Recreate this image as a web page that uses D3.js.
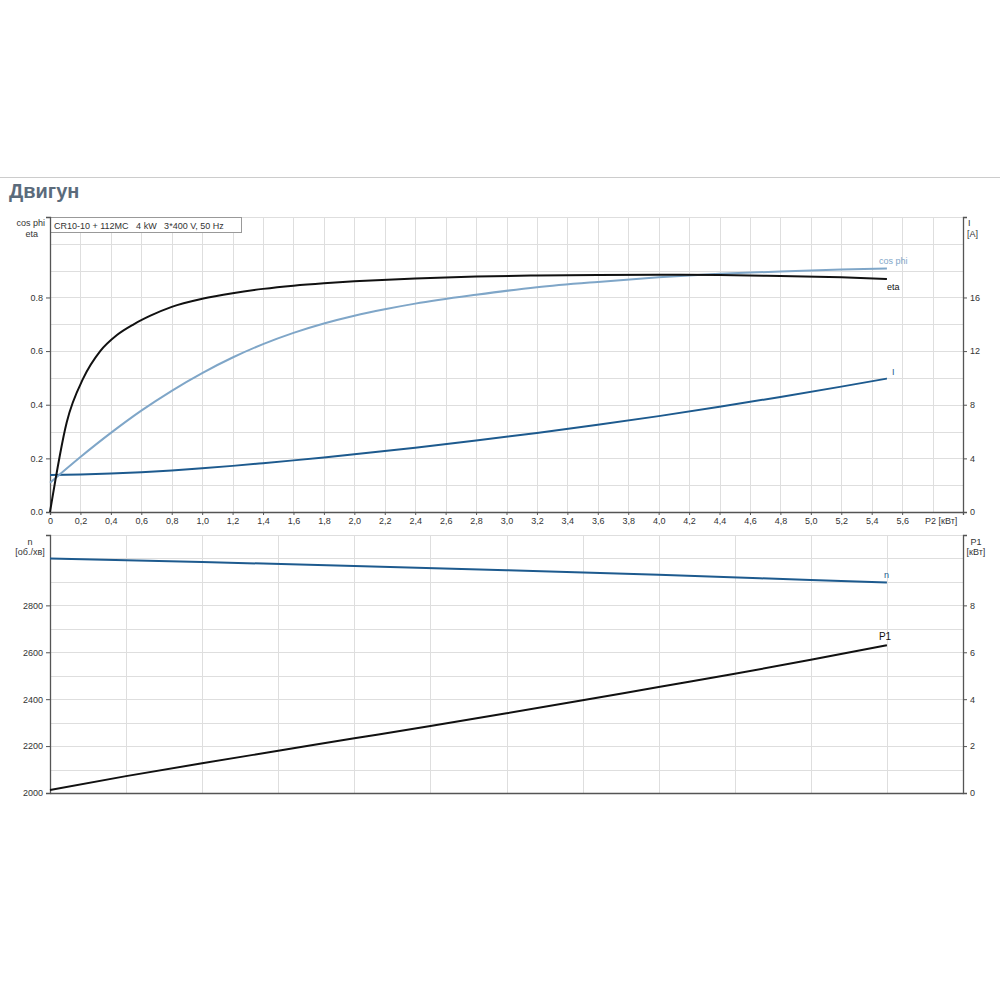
<!DOCTYPE html>
<html>
<head>
<meta charset="utf-8">
<script src="https://cdn.jsdelivr.net/npm/d3@7"></script>
<style>
  body { margin: 0; background: #fff; }
  text { font-family: "Liberation Sans", Arial, sans-serif; }
</style>
</head>
<body>
<script>
// P2 values (kW) and curves
var etaP2   = [0, 0.11, 0.22, 0.33, 0.44, 0.55, 0.66, 0.8, 1.0, 1.2, 1.4, 1.6, 1.8, 2.0, 2.4, 2.8, 3.2, 3.6, 4.0, 4.4, 4.8, 5.2, 5.5];
var etaVals = [0, 0.335, 0.5, 0.6, 0.66, 0.70, 0.732, 0.765, 0.795, 0.816, 0.832, 0.844, 0.853, 0.86, 0.871, 0.878, 0.882, 0.884, 0.885, 0.884, 0.88, 0.875, 0.869];

var cosP2   = [0, 0.2, 0.4, 0.6, 0.8, 1.0, 1.2, 1.4, 1.6, 1.8, 2.0, 2.2, 2.4, 2.8, 3.2, 3.6, 4.0, 4.4, 4.8, 5.2, 5.5];
var cosVals = [0.109, 0.205, 0.295, 0.378, 0.452, 0.518, 0.576, 0.626, 0.668, 0.703, 0.732, 0.756, 0.777, 0.81, 0.838, 0.858, 0.875, 0.888, 0.897, 0.904, 0.908];

var curP2   = [0, 0.2, 0.4, 0.6, 0.8, 1.0, 1.2, 1.4, 1.6, 1.8, 2.0, 2.4, 2.8, 3.2, 3.6, 4.0, 4.4, 4.8, 5.2, 5.5];
var curVals = [2.76, 2.8, 2.87, 2.97, 3.1, 3.26, 3.44, 3.64, 3.85, 4.07, 4.3, 4.8, 5.33, 5.9, 6.5, 7.15, 7.85, 8.58, 9.35, 9.95];

var nP2   = [0, 1.0, 2.0, 3.0, 4.0, 5.0, 5.5];
var nVals = [3000, 2985, 2968, 2950, 2930, 2908, 2897];

var p1P2   = [0, 0.5, 1.0, 1.5, 2.0, 2.5, 3.0, 3.5, 4.0, 4.5, 5.0, 5.5];
var p1Vals = [0.13, 0.72, 1.27, 1.8, 2.33, 2.86, 3.4, 3.95, 4.52, 5.08, 5.68, 6.3];

var xTicks = [0, 0.2, 0.4, 0.6, 0.8, 1.0, 1.2, 1.4, 1.6, 1.8, 2.0, 2.2, 2.4, 2.6, 2.8, 3.0, 3.2, 3.4, 3.6, 3.8, 4.0, 4.2, 4.4, 4.6, 4.8, 5.0, 5.2, 5.4, 5.6];
var etaTicks = [0, 0.2, 0.4, 0.6, 0.8];
var curTicks = [0, 4, 8, 12, 16];
var nTicks = [2000, 2200, 2400, 2600, 2800];
var p1Ticks = [0, 2, 4, 6, 8];

var svg = d3.select("body").append("svg")
  .attr("width", 1000)
  .attr("height", 1000);

var gridColor = "#dedede",
    axisColor = "#555",
    textColor = "#333",
    lightBlue = "#7fa6c8",
    darkBlue = "#1d5a8e";

// header rule and title
svg.append("line")
  .attr("x1", 0).attr("x2", 1000)
  .attr("y1", 177.5).attr("y2", 177.5)
  .style("stroke", "#ccc");

svg.append("text")
  .attr("x", 9).attr("y", 198)
  .style("font-size", "20px")
  .style("font-weight", "bold")
  .style("fill", "#5b6b7b")
  .text("Двигун");

var x = d3.scaleLinear().domain([0, 6]).range([50, 963]);

function line(xs, ys, yScale) {
  return d3.line()
    .x(function(d, i) { return x(xs[i]); })
    .y(function(d) { return yScale(d); })
    .curve(d3.curveMonotoneX)(ys);
}

// ---------- top chart ----------
var yEta = d3.scaleLinear().domain([0, 1.1]).range([512, 217]);
var yCur = d3.scaleLinear().domain([0, 22]).range([512, 217]);

var gTop = svg.append("g");

gTop.append("g").selectAll("line")
  .data(d3.range(1, 12).map(function(i) { return i / 10; }))
  .enter().append("line")
  .attr("x1", 50).attr("x2", 963)
  .attr("y1", function(d) { return Math.round(yEta(d)) + 0.5; })
  .attr("y2", function(d) { return Math.round(yEta(d)) + 0.5; })
  .style("stroke", gridColor);

gTop.append("g").selectAll("line")
  .data(d3.range(1, 30).map(function(i) { return i * 0.2; }))
  .enter().append("line")
  .attr("x1", function(d) { return Math.round(x(d)) + 0.5; })
  .attr("x2", function(d) { return Math.round(x(d)) + 0.5; })
  .attr("y1", 217).attr("y2", 512)
  .style("stroke", gridColor);

// info box
gTop.append("rect")
  .attr("x", 50.5).attr("y", 217.5)
  .attr("width", 191).attr("height", 15)
  .style("fill", "#fff")
  .style("stroke", "#999");

gTop.append("text")
  .attr("x", 54).attr("y", 228.5)
  .style("font-size", "9px")
  .style("fill", textColor)
  .attr("xml:space", "preserve")
  .text("CR10-10 + 112MC   4 kW   3*400 V, 50 Hz");

var xAxis = d3.axisBottom(x)
  .tickValues(xTicks)
  .tickSize(3)
  .tickFormat(function(d) { return d === 0 ? "0" : d3.format(".1f")(d).replace(".", ","); });

var gx = gTop.append("g")
  .attr("transform", "translate(0,512)")
  .call(xAxis);

var gl = gTop.append("g")
  .attr("transform", "translate(50,0)")
  .call(d3.axisLeft(yEta).tickValues(etaTicks).tickSize(4).tickFormat(d3.format(".1f")));

var gr = gTop.append("g")
  .attr("transform", "translate(963,0)")
  .call(d3.axisRight(yCur).tickValues(curTicks).tickSize(4));

gTop.append("text")
  .attr("x", 925).attr("y", 524)
  .style("font-size", "9px").style("fill", textColor)
  .text("P2 [кВт]");

gTop.append("text").attr("x", 45).attr("y", 226).attr("text-anchor", "end")
  .style("font-size", "9px").style("fill", textColor).text("cos phi");
gTop.append("text").attr("x", 38).attr("y", 237).attr("text-anchor", "end")
  .style("font-size", "9px").style("fill", textColor).text("eta");
gTop.append("text").attr("x", 968).attr("y", 226)
  .style("font-size", "9px").style("fill", textColor).text("I");
gTop.append("text").attr("x", 967).attr("y", 237)
  .style("font-size", "9px").style("fill", textColor).text("[A]");

gTop.append("path")
  .attr("d", line(curP2, curVals, yCur))
  .style("fill", "none").style("stroke", darkBlue).style("stroke-width", 2);

gTop.append("path")
  .attr("d", line(cosP2, cosVals, yEta))
  .style("fill", "none").style("stroke", lightBlue).style("stroke-width", 2);

gTop.append("path")
  .attr("d", line(etaP2, etaVals, yEta))
  .style("fill", "none").style("stroke", "#111").style("stroke-width", 2);

gTop.append("text")
  .attr("x", x(5.5) - 8).attr("y", yEta(cosVals[cosVals.length - 1]) - 4)
  .style("font-size", "9px").style("fill", lightBlue).text("cos phi");
gTop.append("text")
  .attr("x", x(5.5)).attr("y", yEta(etaVals[etaVals.length - 1]) + 11)
  .style("font-size", "9px").style("fill", "#111").text("eta");
gTop.append("text")
  .attr("x", x(5.5) + 5).attr("y", yCur(curVals[curVals.length - 1]) - 4)
  .style("font-size", "9px").style("fill", darkBlue).text("I");

// ---------- bottom chart ----------
var yN = d3.scaleLinear().domain([2000, 3100]).range([793, 535]);
var yP1 = d3.scaleLinear().domain([0, 11]).range([793, 535]);

var gBot = svg.append("g");

gBot.append("g").selectAll("line")
  .data(d3.range(2100, 3101, 100))
  .enter().append("line")
  .attr("x1", 50).attr("x2", 963)
  .attr("y1", function(d) { return Math.round(yN(d)) + 0.5; })
  .attr("y2", function(d) { return Math.round(yN(d)) + 0.5; })
  .style("stroke", gridColor);

gBot.append("g").selectAll("line")
  .data(d3.range(1, 12).map(function(i) { return i * 0.5; }))
  .enter().append("line")
  .attr("x1", function(d) { return Math.round(x(d)) + 0.5; })
  .attr("x2", function(d) { return Math.round(x(d)) + 0.5; })
  .attr("y1", 535).attr("y2", 793)
  .style("stroke", gridColor);

var gbx = gBot.append("g")
  .attr("transform", "translate(0,793)")
  .call(d3.axisBottom(x).tickValues([]).tickSizeOuter(0));

var gbl = gBot.append("g")
  .attr("transform", "translate(50,0)")
  .call(d3.axisLeft(yN).tickValues(nTicks).tickSize(4).tickFormat(d3.format("d")));

var gbr = gBot.append("g")
  .attr("transform", "translate(963,0)")
  .call(d3.axisRight(yP1).tickValues(p1Ticks).tickSize(4));

gBot.append("text").attr("x", 30).attr("y", 545).attr("text-anchor", "middle")
  .style("font-size", "9px").style("fill", textColor).text("n");
gBot.append("text").attr("x", 30).attr("y", 555).attr("text-anchor", "middle")
  .style("font-size", "9px").style("fill", textColor).text("[об./хв]");
gBot.append("text").attr("x", 976).attr("y", 545).attr("text-anchor", "middle")
  .style("font-size", "9px").style("fill", textColor).text("P1");
gBot.append("text").attr("x", 976).attr("y", 555).attr("text-anchor", "middle")
  .style("font-size", "9px").style("fill", textColor).text("[кВт]");

gBot.append("path")
  .attr("d", line(nP2, nVals, yN))
  .style("fill", "none").style("stroke", darkBlue).style("stroke-width", 2);

gBot.append("path")
  .attr("d", line(p1P2, p1Vals, yP1))
  .style("fill", "none").style("stroke", "#111").style("stroke-width", 2);

gBot.append("text")
  .attr("x", x(5.5) - 3).attr("y", yN(nVals[nVals.length - 1]) - 5)
  .style("font-size", "9px").style("fill", darkBlue).text("n");
gBot.append("text")
  .attr("x", x(5.5) - 8).attr("y", yP1(p1Vals[p1Vals.length - 1]) - 5)
  .style("font-size", "10px").style("fill", "#111").text("P1");

// axis styling
[gx, gl, gr, gbx, gbl, gbr].forEach(function(g) {
  g.select(".domain").style("stroke", axisColor).style("stroke-width", 1.3);
  g.selectAll(".tick line").style("stroke", axisColor);
  g.selectAll(".tick text")
    .style("font-family", "'Liberation Sans', Arial, sans-serif")
    .style("font-size", "9px")
    .style("fill", textColor);
});
</script>
</body>
</html>
